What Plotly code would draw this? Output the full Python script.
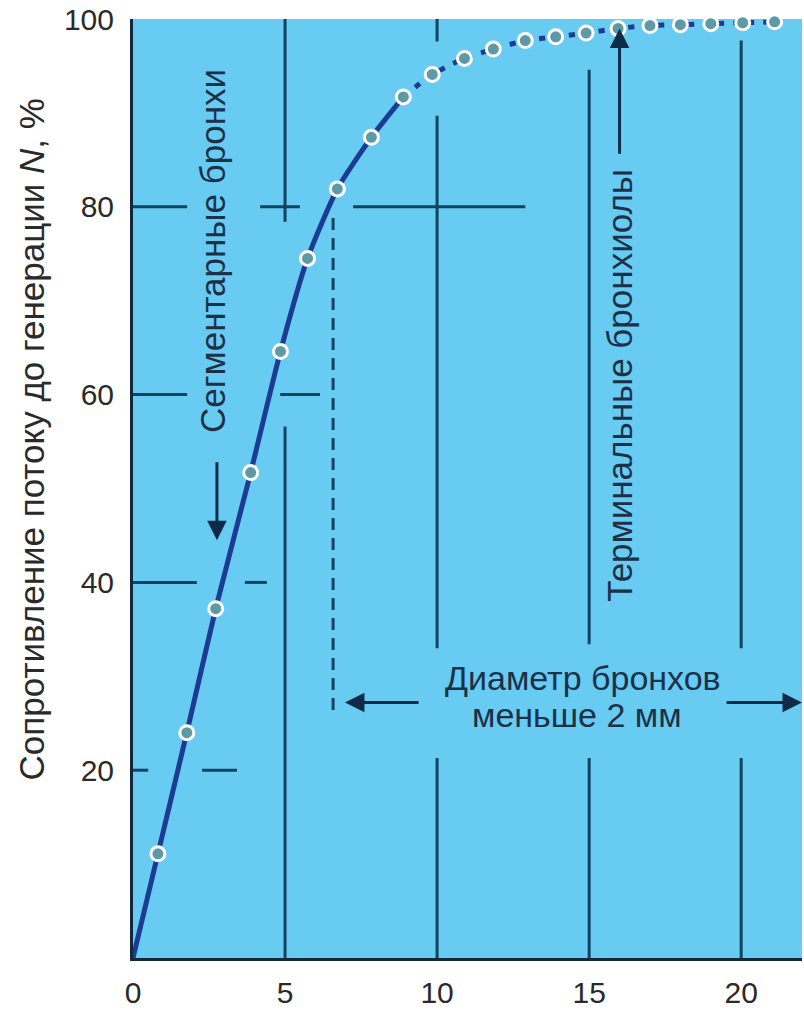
import plotly.graph_objects as go

# ---- data ----
generation = [0.82, 1.77, 2.72, 3.87, 4.85, 5.74, 6.72, 7.84, 8.89, 9.84,
              10.9, 11.85, 12.9, 13.9, 14.9, 15.95, 17.0, 18.0, 19.0, 20.05, 21.1]
resistance = [11.1, 24.0, 37.2, 51.7, 64.6, 74.5, 81.9, 87.4, 91.7, 94.1,
              95.8, 96.8, 97.7, 98.1, 98.5, 99.0, 99.3, 99.4, 99.5, 99.6, 99.7]
n_solid = 9  # points drawn with a solid curve (rest dotted)

x_ticks = [0, 5, 10, 15, 20]
y_ticks = [20, 40, 60, 80, 100]

# partial grid segments: (y, x0, x1) and (x, y0, y1)
grid_h = [(80, 0, 1.78), (80, 4.18, 5.49), (80, 7.24, 12.9),
          (60, 0, 1.78), (60, 4.84, 6.15),
          (40, 0, 2.1), (40, 3.68, 4.4),
          (20, 0, 0.5), (20, 2.27, 3.42)]
grid_v = [(5, 78.4, 100), (5, 0, 56.6),
          (10, 97.6, 100), (10, 33.0, 89.7), (10, 0, 21.3),
          (15, 33.4, 94.6), (15, 0, 21.3),
          (20, 33.0, 97.7), (20, 0, 21.3)]
dashed_v = (6.58, 26.4, 79.0)

ytitle = "Сопротивление потоку до генерации <i>N</i>, %"
label_seg = "Сегментарные бронхи"
label_term = "Терминальные бронхиолы"
label_diam1 = "Диаметр бронхов"
label_diam2 = "меньше 2 мм"

FONT = "Liberation Sans, Arial, sans-serif"
GRID = "#0f4461"
NAVY = "#0f2b48"
CURVE = "#1b3c92"
BG = "#68cbf2"
TXT = "#1c3148"

fig = go.Figure()

# grid segments
for y, x0, x1 in grid_h:
    fig.add_shape(type="line", xref="x", yref="y", x0=x0, x1=x1, y0=y, y1=y,
                  line=dict(color=GRID, width=3), layer="below")
for x, y0, y1 in grid_v:
    fig.add_shape(type="line", xref="x", yref="y", x0=x, x1=x, y0=y0, y1=y1,
                  line=dict(color=GRID, width=3), layer="below")
fig.add_shape(type="line", xref="x", yref="y", x0=dashed_v[0], x1=dashed_v[0],
              y0=dashed_v[1], y1=dashed_v[2],
              line=dict(color=GRID, width=3, dash="12px,8px"), layer="below")

# solid part of the curve (from origin)
xs = [0] + generation[:n_solid]
ys = [0] + resistance[:n_solid]
fig.add_trace(go.Scatter(x=xs, y=ys, mode="lines",
                         line=dict(color=CURVE, width=5, shape="spline", smoothing=0.6),
                         hoverinfo="skip", cliponaxis=False))
# dotted part
fig.add_trace(go.Scatter(x=generation[n_solid - 1:], y=resistance[n_solid - 1:], mode="lines",
                         line=dict(color=CURVE, width=5, shape="spline", smoothing=0.6,
                                   dash="6px,9px"),
                         hoverinfo="skip", cliponaxis=False))
# points
fig.add_trace(go.Scatter(x=generation, y=resistance, mode="markers",
                         marker=dict(size=14, color="#5e9aa6",
                                     line=dict(color="white", width=3)),
                         cliponaxis=False))

ann = []
ann.append(dict(x=2.63, y=75.3, xref="x", yref="y", text=label_seg, textangle=-90,
                showarrow=False, font=dict(size=35, color=TXT, family=FONT)))
ann.append(dict(x=16.0, y=61.0, xref="x", yref="y", text=label_term, textangle=-90,
                showarrow=False, font=dict(size=35, color=TXT, family=FONT)))
ann.append(dict(x=14.8, y=29.8, xref="x", yref="y", text=label_diam1,
                showarrow=False, font=dict(size=34, color=TXT, family=FONT)))
ann.append(dict(x=14.6, y=25.9, xref="x", yref="y", text=label_diam2,
                showarrow=False, font=dict(size=34, color=TXT, family=FONT)))
# arrows
arrows = [((2.76, 44.5), (2.76, 52.95)),   # down arrow (segmental)
          ((16.0, 99.0), (16.0, 85.5)),    # up arrow (terminal)
          ((6.97, 27.2), (9.44, 27.2)),    # left arrow
          ((22.0, 27.2), (19.47, 27.2))]   # right arrow
for (hx, hy), (tx, ty) in arrows:
    ann.append(dict(x=hx, y=hy, ax=tx, ay=ty, xref="x", yref="y", axref="x", ayref="y",
                    text="", showarrow=True, arrowhead=2, arrowsize=1.3, arrowwidth=3,
                    arrowcolor=NAVY))
# y title
ann.append(dict(x=-(133 - 31) / 669, y=(965 - 441.5) / 948, xref="paper", yref="paper",
                xanchor="center", yanchor="middle",
                text=ytitle, textangle=-90, showarrow=False,
                font=dict(size=35, color="#2a2a2a", family=FONT)))

fig.update_layout(
    width=804, height=1011,
    margin=dict(l=133, r=2, t=17, b=46),
    paper_bgcolor="white", plot_bgcolor=BG,
    showlegend=False,
    annotations=ann,
    font=dict(family=FONT, color="#2a2a2a"),
    xaxis=dict(range=[0, 22.0], tickvals=x_ticks, showgrid=False, zeroline=False,
               showline=True, linecolor="#13283a", linewidth=3, ticks="",
               tickfont=dict(size=30, color="#2a2a2a", family=FONT),
               ticklabelstandoff=6, ticklabeloverflow="allow"),
    yaxis=dict(range=[0, 100], tickvals=y_ticks, showgrid=False, zeroline=False,
               showline=True, linecolor="#13283a", linewidth=3, ticks="",
               tickfont=dict(size=30, color="#2a2a2a", family=FONT),
               ticklabelstandoff=10, ticklabeloverflow="allow"),
)

# remove the default 8px page margin so the 804x1011 figure fills the window exactly
fig.write_html("out.html",
               config={"displayModeBar": False},
               post_script="document.body.style.margin='0';"
                           "document.documentElement.style.overflow='hidden';")
